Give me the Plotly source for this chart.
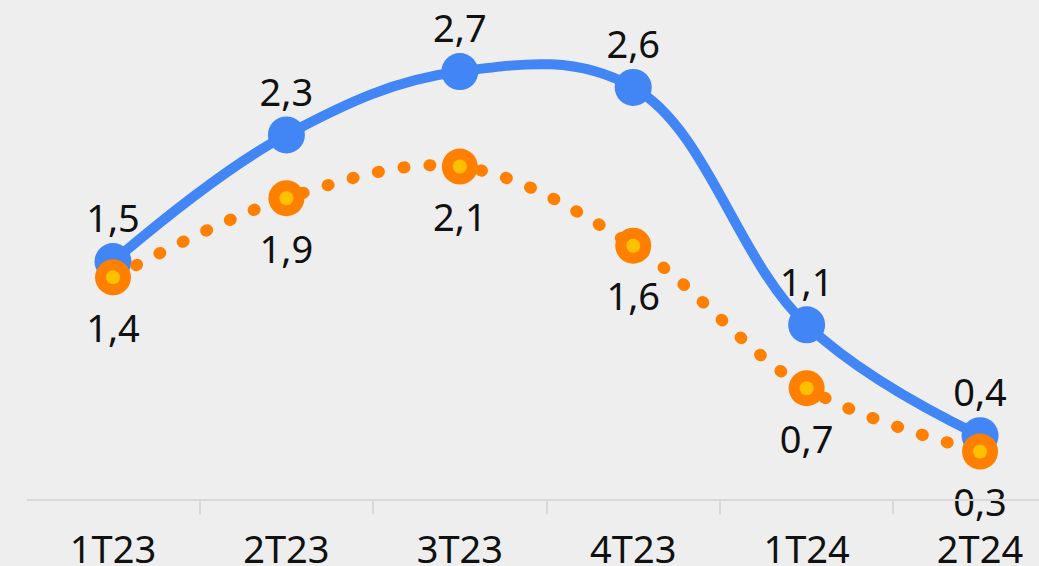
import plotly.graph_objects as go

categories = ["1T23", "2T23", "3T23", "4T23", "1T24", "2T24"]
serie_azul = [1.5, 2.3, 2.7, 2.6, 1.1, 0.4]
serie_naranja = [1.4, 1.9, 2.1, 1.6, 0.7, 0.3]

BG = "#eeeeee"
BLUE = "#4285f4"
ORANGE = "#ff8000"
YELLOW = "#ffc000"
FONT = "Noto Sans"
FS = 38
TXT = "#111111"

x = list(range(len(categories)))


def fmt(v):
    return f"{v:.1f}".replace(".", ",")


fig = go.Figure()

fig.add_trace(go.Scatter(
    x=x, y=serie_azul, mode="lines+markers",
    line=dict(color=BLUE, width=10, shape="spline", smoothing=1.1),
    marker=dict(color=BLUE, size=37),
    cliponaxis=False, hoverinfo="skip", showlegend=False,
))

fig.add_trace(go.Scatter(
    x=x, y=serie_naranja, mode="lines+markers",
    line=dict(color=ORANGE, width=12, shape="spline", smoothing=1.0, dash="1px,25px"),
    marker=dict(color=ORANGE, size=36),
    cliponaxis=False, hoverinfo="skip", showlegend=False,
))

fig.add_trace(go.Scatter(
    x=x, y=serie_naranja, mode="markers",
    marker=dict(color=YELLOW, size=14),
    cliponaxis=False, hoverinfo="skip", showlegend=False,
))

# data labels (invisible markers set the label offset)
fig.add_trace(go.Scatter(
    x=x, y=serie_azul, mode="markers+text",
    marker=dict(color="rgba(0,0,0,0)", size=30),
    text=[fmt(v) for v in serie_azul], textposition="top center",
    textfont=dict(family=FONT, size=FS, color=TXT),
    cliponaxis=False, hoverinfo="skip", showlegend=False,
))
fig.add_trace(go.Scatter(
    x=x, y=serie_naranja, mode="markers+text",
    marker=dict(color="rgba(0,0,0,0)", size=56),
    text=[fmt(v) for v in serie_naranja], textposition="bottom center",
    textfont=dict(family=FONT, size=FS, color=TXT),
    cliponaxis=False, hoverinfo="skip", showlegend=False,
))

fig.update_layout(
    width=1039, height=566,
    paper_bgcolor=BG, plot_bgcolor=BG,
    margin=dict(l=27, r=0, t=0, b=67, autoexpand=False),
    font=dict(family=FONT, size=FS, color=TXT),
    xaxis=dict(
        range=[-0.496, 5.34], automargin=False,
        tickvals=x, ticktext=categories,
        ticks="", showgrid=False, zeroline=False,
        showline=True, linecolor="#d9d9d9", linewidth=2,
        tickfont=dict(family=FONT, size=FS, color=TXT),
        ticklabelstandoff=16,
        minor=dict(tick0=-0.5, dtick=1, ticks="outside", ticklen=13,
                   tickwidth=2, tickcolor="#d9d9d9", showgrid=False),
    ),
    yaxis=dict(range=[0, 3.152], visible=False, showgrid=False, zeroline=False,
               automargin=False),
)

post = """
var s=document.createElement('style');
s.innerHTML='html,body{margin:0;padding:0;background:#eeeeee;overflow:hidden;} .scatterlayer .js-line{stroke-linecap:round !important;}';
document.head.appendChild(s);
"""

fig.write_html("out.html", post_script=post, config={"displayModeBar": False})
